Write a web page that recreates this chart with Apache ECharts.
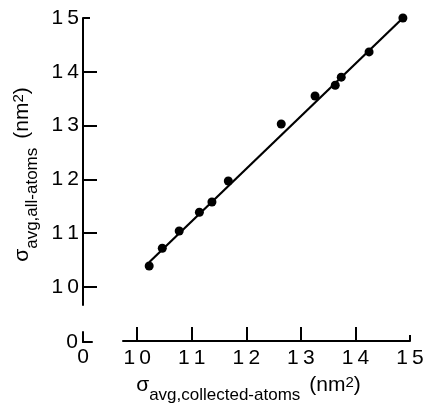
<!DOCTYPE html>
<html>
  <head>
    <meta charset="utf-8" />
    <title>sigma avg</title>
    <script src="https://cdn.jsdelivr.net/npm/echarts@6/dist/echarts.min.js"></script>
  </head>
  <body style="margin:0;background:#fff;">
    <div id="main" style="width:426px;height:407px;"></div>
    <script type="text/javascript">
      // data
      const xCollected = [10.22, 10.46, 10.77, 11.14, 11.37, 11.67, 12.64, 13.26, 13.63, 13.74, 14.25, 14.87];
      const yAllAtoms = [10.39, 10.72, 11.04, 11.39, 11.58, 11.97, 13.03, 13.55, 13.75, 13.9, 14.37, 15.0];
      const fitX = [10.22, 14.87];
      const fitY = [10.46, 15.0];
      const tickValues = [10, 11, 12, 13, 14];
      const endTick = [15];

      const font = "Liberation Sans";
      const spaced = v => String(v).split("").join("\u2009");

      // sigma with subscript and (nm^2), all tokens hung from the top
      const titleRich = {
        s: { fontSize: 21, fontFamily: font, color: "#000", lineHeight: 22, verticalAlign: "top" },
        b: { fontSize: 17, fontFamily: font, color: "#000", lineHeight: 18, verticalAlign: "top", padding: [12, 9, 0, 0] },
        n: { fontSize: 21, fontFamily: font, color: "#000", lineHeight: 22, verticalAlign: "top" },
        p: { fontSize: 15, fontFamily: font, color: "#000", lineHeight: 14, verticalAlign: "top" },
      };

      const myChart = echarts.init(document.getElementById("main"));

      const mainX = {
        type: "value", gridIndex: 0, position: "bottom", offset: 36,
        min: 9.74, max: 15,
        axisLine: { lineStyle: { color: "#000", width: 2 } },
        axisTick: { inside: true, length: 14, customValues: tickValues, lineStyle: { color: "#000", width: 2 } },
        axisLabel: { customValues: tickValues.concat(endTick), formatter: spaced, color: "#000", fontSize: 21, fontFamily: font, margin: 7 },
        splitLine: { show: false },
        name: "{s|σ}{b|avg,collected-atoms}{n|(nm}{p|2}{n|)}",
        nameLocation: "middle",
        nameGap: 34,
        nameTextStyle: { padding: [0, 36, 0, 0], rich: titleRich },
      };
      const endX = {
        type: "value", gridIndex: 0, position: "bottom", offset: 36,
        min: 9.74, max: 15,
        axisLine: { show: false },
        axisTick: { inside: true, length: 6, customValues: endTick, lineStyle: { color: "#000", width: 2 } },
        axisLabel: { show: false },
        splitLine: { show: false },
      };
      const mainY = {
        type: "value", gridIndex: 0, position: "left", offset: 40,
        min: 9.665, max: 15,
        axisLine: { show: true, lineStyle: { color: "#000", width: 2 } },
        axisTick: { show: true, inside: true, length: 14, customValues: tickValues, lineStyle: { color: "#000", width: 2 } },
        axisLabel: { customValues: tickValues.concat(endTick), formatter: spaced, color: "#000", fontSize: 21, fontFamily: font, margin: 4 },
        splitLine: { show: false },
        name: "{s|σ}{b|avg,all-atoms}{n|(nm}{p|2}{n|)}",
        nameLocation: "middle",
        nameGap: 42,
        nameTextStyle: { padding: [0, 26, 0, 0], rich: titleRich },
      };
      const endY = {
        type: "value", gridIndex: 0, position: "left", offset: 40,
        min: 9.665, max: 15,
        axisLine: { show: false },
        axisTick: { show: true, inside: true, length: 7, customValues: endTick, lineStyle: { color: "#000", width: 2 } },
        axisLabel: { show: false },
        splitLine: { show: false },
      };
      // the little broken-axis corner with the zeros
      const zeroX = {
        type: "value", gridIndex: 1, min: 0, max: 1,
        axisLine: { lineStyle: { color: "#000", width: 2 } },
        axisTick: { show: false },
        axisLabel: { customValues: [0], color: "#000", fontSize: 21, fontFamily: font, margin: 5 },
        splitLine: { show: false },
      };
      const zeroY = {
        type: "value", gridIndex: 1, min: 0, max: 1,
        axisLine: { show: true, lineStyle: { color: "#000", width: 2 } },
        axisTick: { show: false },
        axisLabel: { customValues: [0], color: "#000", fontSize: 21, fontFamily: font, margin: 5 },
        splitLine: { show: false },
      };

      const option = {
        animation: false,
        grid: [
          { left: 123, right: 16, top: 18, bottom: 102, outerBoundsMode: "none" },
          { left: 83, width: 9, top: 332, height: 10, outerBoundsMode: "none" },
        ],
        xAxis: [mainX, endX, zeroX],
        yAxis: [mainY, endY, zeroY],
        series: [
          {
            name: "fit",
            type: "line",
            xAxisIndex: 0,
            yAxisIndex: 0,
            symbol: "none",
            lineStyle: { color: "#000", width: 2.2 },
            data: fitX.map((x, i) => [x, fitY[i]]),
          },
          {
            name: "atoms",
            type: "scatter",
            xAxisIndex: 0,
            yAxisIndex: 0,
            symbolSize: 9,
            itemStyle: { color: "#000", opacity: 1 },
            data: xCollected.map((x, i) => [x, yAllAtoms[i]]),
          },
        ],
      };
      myChart.setOption(option);
    </script>
  </body>
</html>
